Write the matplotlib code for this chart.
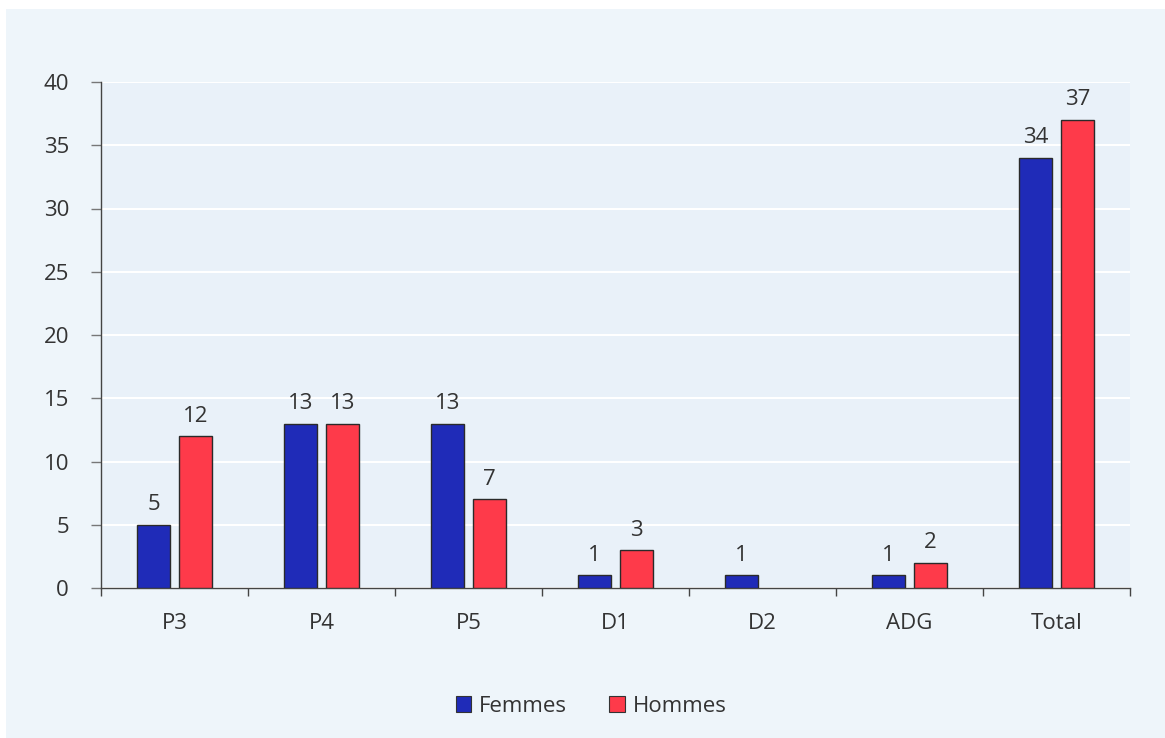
import matplotlib
matplotlib.use("Agg")
import matplotlib.pyplot as plt
from matplotlib.patches import Rectangle
import numpy as np

categories = ["P3", "P4", "P5", "D1", "D2", "ADG", "Total"]
femmes = [5, 13, 13, 1, 1, 1, 34]
hommes = [12, 13, 7, 3, 0, 2, 37]
series_names = ["Femmes", "Hommes"]
colors = ["#1f2bb8", "#fe3a4a"]

plt.rcParams["font.family"] = ["Open Sans", "DejaVu Sans"]

W, H = 1165, 738
fig = plt.figure(figsize=(W / 100, H / 100), dpi=100)
fig.patch.set_facecolor("white")
fig.patches.append(Rectangle((6 / W, 0), 1 - 6 / W, 1 - 9 / H,
                             transform=fig.transFigure, facecolor="#eef5fa",
                             edgecolor="none", zorder=-10))

ax = fig.add_axes([101 / W, 1 - 588 / H, (1130 - 101) / W, (588 - 82) / H])
ax.set_facecolor("#e9f1f9")

x = np.arange(len(categories))
width = 0.225
offset = 0.143
text_color = "#333333"
fs = 16

for vals, off, col in ((femmes, -offset, colors[0]), (hommes, offset, colors[1])):
    bars = ax.bar(x + off, vals, width, color=col, edgecolor="#2a2a2a",
                  linewidth=1.0, zorder=3)
    for b, v in zip(bars, vals):
        if v == 0:
            b.set_linewidth(0)
            continue
        ax.text(b.get_x() + b.get_width() / 2, v + 0.75, str(v),
                ha="center", va="bottom", fontsize=fs, color=text_color)

ax.set_xlim(-0.5, len(categories) - 0.5)
ax.set_ylim(0, 40)
ax.set_yticks(range(0, 41, 5))
ax.yaxis.grid(True, color="white", linewidth=1.5, zorder=0)
ax.set_axisbelow(True)

ax.set_xticks(x)
ax.set_xticklabels(categories)
ax.set_xticks(np.arange(-0.5, len(categories), 1), minor=True)
ax.tick_params(axis="x", which="major", length=0, pad=18, labelsize=fs,
               labelcolor=text_color)
ax.tick_params(axis="x", which="minor", length=6, width=1, color="#444444",
               direction="out")
ax.tick_params(axis="y", length=7, width=1, color="#777777", pad=16,
               labelsize=fs, labelcolor=text_color)

for s in ("top", "right"):
    ax.spines[s].set_visible(False)
for s in ("left", "bottom"):
    ax.spines[s].set_color("#444444")
    ax.spines[s].set_linewidth(1.0)

handles = [Rectangle((0, 0), 1, 1, facecolor=c, edgecolor="#333333", linewidth=0.8)
           for c in colors]
fig.legend(handles, series_names, loc="center", bbox_to_anchor=(591 / W, 1 - 706 / H),
           ncol=2, frameon=False, fontsize=fs, handlelength=0.7, handleheight=0.7,
           handletextpad=0.35, columnspacing=1.9, labelcolor=text_color)

fig.savefig("out.png", dpi=100, facecolor=fig.get_facecolor())
